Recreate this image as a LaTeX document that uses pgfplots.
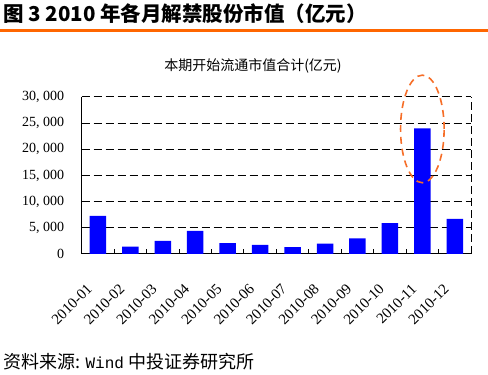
\documentclass[border=0pt]{standalone}
\usepackage{pgfplots}
\pgfplotsset{compat=1.18}
\usepackage{fontspec}
\setmainfont{Liberation Serif}
\newfontfamily\cjk{Noto Sans CJK SC}
\newfontfamily\mono{Liberation Mono}
\definecolor{barblue}{RGB}{0,0,255}
\definecolor{hdrorange}{RGB}{255,102,0}
\definecolor{ellorange}{RGB}{246,110,40}
\begin{document}
\begin{tikzpicture}[x=1pt,y=1pt]
\path[use as bounding box] (0,0) rectangle (488,375);
% header
\node[anchor=west,inner sep=0pt] at (3,361.5) {\cjk\fontsize{20.5}{22}\selectfont\bfseries 图 3 2010 年各月解禁股份市值（亿元）};
\draw[hdrorange,line width=3pt] (0,344.5) -- (488,344.5);
% chart title
\node[inner sep=0pt] at (253,309) {\cjk\fontsize{14}{16}\selectfont 本期开始流通市值合计(亿元)};
% footer
\node[anchor=west,inner sep=0pt] at (3,13) {\cjk\fontsize{18}{20}\selectfont 资料来源: {\mono\fontsize{16}{18}\selectfont Wind} 中投证券研究所};
\begin{axis}[
  at={(81.7pt,121pt)}, anchor=south west,
  scale only axis, width=389.3pt, height=157pt,
  xmin=-0.5, xmax=11.5, ymin=0, ymax=30000,
  axis x line*=bottom, axis y line*=left,
  axis line style={line width=1pt, black},
  xtick={0,...,11},
  xticklabels={2010-01,2010-02,2010-03,2010-04,2010-05,2010-06,2010-07,2010-08,2010-09,2010-10,2010-11,2010-12},
  minor xtick={0.5,1.5,...,10.5},
  major x tick style={draw=none},
  minor x tick style={line width=1pt, black},
  minor tick length=5pt,
  tick align=inside,
  ytick={0,5000,10000,15000,20000,25000,30000},
  y tick style={draw=none},
  ymajorgrids,
  major grid style={black, line width=1pt, dash pattern=on 8pt off 4pt},
  scaled y ticks=false,
  /pgf/number format/assume math mode=true,
  /pgf/number format/1000 sep={,\ },
  yticklabel style={font=\fontsize{14}{16}\selectfont, xshift=-14pt},
  xticklabel style={font=\fontsize{15}{17}\selectfont, anchor=east, xshift=-6pt, yshift=-30pt, rotate=45},
  clip=false,
  after end axis/.code={
    \draw[black, line width=1pt, dash pattern=on 8pt off 4pt] (rel axis cs:1,0) -- (rel axis cs:1,1);
    \draw[ellorange, line width=1.6pt, dash pattern=on 7pt off 5pt] (axis cs:10,23900) ellipse [x radius=21.8pt, y radius=53.8pt];
  },
]
\addplot[ybar, bar width=16.5pt, fill=barblue, draw=none] coordinates {
(0,7300) (1,1400) (2,2500) (3,4400) (4,2100) (5,1750) (6,1300) (7,2000) (8,3000) (9,5900) (10,24000) (11,6700)
};
\end{axis}
\end{tikzpicture}
\end{document}
